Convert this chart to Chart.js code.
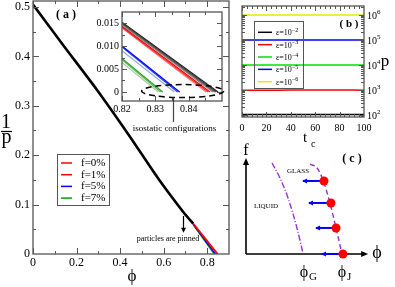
<!DOCTYPE html>
<html>
<head>
<meta charset="utf-8">
<script src="https://cdn.jsdelivr.net/npm/chart.js@4.4.1/dist/chart.umd.min.js"></script>
<style>
  body { margin: 0; background: #fff; }
  #page { position: relative; width: 395px; height: 287px; overflow: hidden; }
  #page canvas { position: absolute; }
</style>
</head>
<body>
<div id="page">
  <canvas id="chartA" width="235" height="287" style="left:0;top:0"></canvas>
  <canvas id="chartInset" width="145" height="140" style="left:85px;top:0"></canvas>
  <canvas id="chartB" width="163" height="150" style="left:232px;top:0"></canvas>
  <canvas id="chartC" width="163" height="147" style="left:232px;top:140px"></canvas>
</div>
<script>
// ---- panel (a): 1/p against phi ----
const phiMain = [0, 0.138, 0.294, 0.446, 0.57, 0.69, 0.736];
const invPMain = [0.505, 0.423, 0.332, 0.237, 0.156, 0.085, 0.061];
const pinLabels = ['f=0%', 'f=1%', 'f=5%', 'f=7%'];
const pinColors = ['#ff0000', '#ff0000', '#0000ff', '#00a000'];
const pinPhiStart = [0.736, 0.736, 0.736, 0.736];
const pinInvPStart = [0.062, 0.061, 0.060, 0.059];
const pinPhiEnd = [0.8485, 0.8462, 0.8372, 0.8320];
const xTicksA = [0, 0.2, 0.4, 0.6, 0.8];
const xMinorA = [0.1, 0.3, 0.5, 0.7];
const yTicksA = [0, 0.1, 0.2, 0.3, 0.4, 0.5];
const yMinorA = [0.05, 0.15, 0.25, 0.35, 0.45];

// ---- inset: close to jamming ----
const insetPhiStart = 0.82;
const insetInvPStart = [0.0152, 0.0150, 0.0148, 0.0146, 0.0143, 0.0141, 0.0139, 0.0100, 0.0098, 0.0090, 0.0073, 0.0070, 0.0064];
const insetPhiEnd = [0.8488, 0.8483, 0.8478, 0.8473, 0.8464, 0.8458, 0.8452, 0.8373, 0.8367, 0.8357, 0.8322, 0.8316, 0.8309];
const insetColors = ['#222', '#444', '#666', '#888', '#ff0000', '#ff3333', '#ff8080',
                     '#0000ff', '#2244ee', '#90a8ea', '#30a030', '#60b860', '#a0d0a0'];
const xTicksIn = [0.82, 0.83, 0.84];
const xMinorIn = [0.825, 0.835, 0.845];
const yTicksIn = [0, 0.005, 0.01, 0.015];
const yMinorIn = [0.0025, 0.0075, 0.0125];

// ---- panel (b): p against t_c ----
const tc = [0, 10, 20, 30, 40, 50, 60, 70, 80, 90, 100];
const epsExp = ['\u22122', '\u22123', '\u22124', '\u22125', '\u22126'];
const epsColors = ['#000000', '#ff0000', '#00e000', '#0000ff', '#e8e800'];
const pEps2 = [105, 105, 105, 105, 105, 105, 105, 105, 105, 105, 105];
const pEps3 = [980, 980, 980, 980, 990, 1000, 1000, 1000, 1000, 990, 980];
const pEps4 = [10000, 10000, 10000, 10000, 10000, 10000, 10000, 10000, 10000, 10000, 10000];
const pEps5 = [100000, 100000, 100000, 100000, 100000, 100000, 100000, 100000, 100000, 100000, 100000];
const pEps6 = [1000000, 1000000, 1000000, 1000000, 1000000, 1000000, 1000000, 1000000, 1000000, 1000000, 1000000];
const xTicksB = [0, 20, 40, 60, 80, 100];
const xMinorB = [4, 8, 12, 16, 24, 28, 32, 36, 44, 48, 52, 56, 64, 68, 72, 76, 84, 88, 92, 96];
const yTicksB = [100, 1000, 10000, 100000, 1000000];
const yMinorB = [];
for (let e = 1; e <= 6; e++) for (let k = 2; k <= 9; k++) yMinorB.push(k * Math.pow(10, e));

// ---- panel (c): schematic f against phi ----
const jamCurveX = [0.516, 0.573, 0.621, 0.677, 0.726, 0.774];
const jamCurveY = [0.957, 0.915, 0.787, 0.543, 0.277, 0];
const glassCurveX = [0.21, 0.274, 0.339, 0.411, 0.46];
const glassCurveY = [0.968, 0.809, 0.596, 0.277, 0.005];
const jamX = [0.629, 0.685, 0.726, 0.782];
const jamY = [0.777, 0.543, 0.277, 0];
const arrowTailX = [0.46, 0.508, 0.565, 0.613];

const SERIF = "'Liberation Serif', 'Times New Roman', serif";
const FRAME = '#555';
const PURPLE = '#9932cc';
const PHI = '\u03d5';
Chart.defaults.font.family = SERIF;
Chart.defaults.color = '#000';

function fixBox(size, horizontal) {
  return s => {
    if (horizontal) s.height = size; else s.width = size;
    s.paddingTop = s.paddingBottom = s.paddingLeft = s.paddingRight = 0;
  };
}
function useTicks(values) {
  return s => { s.ticks = values.map(v => ({ value: v })); };
}
function pts(xs, ys) {
  return xs.map((x, i) => ({ x: x, y: ys[i] }));
}
function text(ctx, s, x, y, size, opts) {
  opts = opts || {};
  ctx.font = (opts.bold ? 'bold ' : '') + size + 'px ' + SERIF;
  ctx.fillStyle = opts.color || '#000';
  ctx.textAlign = opts.align || 'center';
  ctx.textBaseline = opts.base || 'middle';
  ctx.fillText(s, x, y);
  return ctx.measureText(s).width;
}
function arrowHead(ctx, x, y, dx, dy, len, half) {
  const px = -dy, py = dx;
  ctx.beginPath();
  ctx.moveTo(x, y);
  ctx.lineTo(x - dx * len + px * half, y - dy * len + py * half);
  ctx.lineTo(x - dx * len - px * half, y - dy * len - py * half);
  ctx.closePath();
  ctx.fill();
}

// inward ticks on all four sides plus the frame
const frameTicks = {
  id: 'frameTicks',
  afterDatasetsDraw(chart, args, o) {
    const { ctx, chartArea: a } = chart;
    const sx = chart.scales.x, sy = chart.scales.y;
    ctx.save();
    ctx.strokeStyle = FRAME;
    ctx.lineWidth = 1;
    ctx.beginPath();
    const xs = (vals, len) => vals.forEach(v => {
      const p = Math.round(sx.getPixelForValue(v)) + 0.5;
      if (p < a.left || p > a.right) return;
      ctx.moveTo(p, a.bottom); ctx.lineTo(p, a.bottom - len);
      ctx.moveTo(p, a.top); ctx.lineTo(p, a.top + len);
    });
    const ys = (vals, len) => vals.forEach(v => {
      const p = Math.round(sy.getPixelForValue(v)) + 0.5;
      if (p < a.top || p > a.bottom) return;
      ctx.moveTo(a.left, p); ctx.lineTo(a.left + len, p);
      ctx.moveTo(a.right, p); ctx.lineTo(a.right - len, p);
    });
    xs(o.xMajor, o.major); xs(o.xMinor, o.minor);
    ys(o.yMajor, o.major); ys(o.yMinor, o.minor);
    ctx.stroke();
    ctx.lineWidth = 1.3;
    ctx.strokeRect(a.left, a.top, a.right - a.left, a.bottom - a.top);
    ctx.restore();
  }
};

const whiteArea = {
  id: 'whiteArea',
  beforeDraw(chart) {
    const { ctx, chartArea: a } = chart;
    ctx.save();
    ctx.fillStyle = '#fff';
    ctx.fillRect(a.left, a.top, a.right - a.left, a.bottom - a.top);
    ctx.restore();
  }
};

function lineOpts(color, width) {
  return { borderColor: color, borderWidth: width, pointRadius: 0, fill: false };
}

function axisOpts(min, max, ticks, box, horizontal, fontSize, pad) {
  return {
    type: 'linear', min: min, max: max,
    grid: { display: false, drawTicks: false },
    border: { display: false },
    ticks: { padding: pad, font: { size: fontSize }, color: '#000' },
    afterBuildTicks: useTicks(ticks),
    afterFit: fixBox(box, horizontal)
  };
}

// ---------- panel (a) ----------
const notesA = {
  id: 'notesA',
  afterDraw(chart) {
    const { ctx } = chart;
    const sx = chart.scales.x, sy = chart.scales.y;
    ctx.save();
    text(ctx, '( a )', sx.getPixelForValue(0.152), sy.getPixelForValue(0.484), 12, { bold: true });
    // axis titles
    text(ctx, '1', 6, 128, 20, { base: 'alphabetic' });
    ctx.strokeStyle = '#000'; ctx.lineWidth = 1.2;
    ctx.beginPath(); ctx.moveTo(1, 131.5); ctx.lineTo(12, 131.5); ctx.stroke();
    text(ctx, 'p', 6.5, 143, 20, { base: 'alphabetic' });
    text(ctx, PHI, 132, 281, 17, { base: 'alphabetic' });
    // pinning arrow
    const ax = Math.round(sx.getPixelForValue(0.69)) + 0.5;
    const y0 = sy.getPixelForValue(0.077), y1 = sy.getPixelForValue(0.043);
    ctx.fillStyle = '#000';
    ctx.beginPath(); ctx.moveTo(ax, y0); ctx.lineTo(ax, y1 - 4); ctx.stroke();
    arrowHead(ctx, ax, y1, 0, 1, 5, 2.5);
    text(ctx, 'particles are pinned', sx.getPixelForValue(0.62), sy.getPixelForValue(0.030), 8);
    // legend
    ctx.strokeStyle = FRAME; ctx.lineWidth = 1;
    ctx.strokeRect(57.5, 154.5, 52, 51);
    pinLabels.forEach((lab, i) => {
      const y = 163 + i * 11.7;
      ctx.strokeStyle = pinColors[i]; ctx.lineWidth = 1.5;
      ctx.beginPath(); ctx.moveTo(61, y); ctx.lineTo(72, y); ctx.stroke();
      text(ctx, lab, 81, y, 11, { align: 'left' });
    });
    ctx.restore();
  }
};

new Chart(document.getElementById('chartA'), {
  type: 'line',
  data: {
    datasets: [
      ...pinLabels.map((lab, i) => Object.assign({
        label: lab, order: 0,
        data: [{ x: pinPhiStart[i], y: pinInvPStart[i] }, { x: pinPhiEnd[i], y: 0 }]
      }, lineOpts(pinColors[i], 1.4))),
      Object.assign({ label: 'all', order: 1, data: pts(phiMain, invPMain), tension: 0.2 }, lineOpts('#000', 2.6))
    ]
  },
  options: {
    responsive: false, animation: false,
    layout: { padding: { top: 1, right: 6, left: 0, bottom: 0 } },
    plugins: {
      legend: { display: false }, tooltip: { enabled: false },
      frameTicks: { xMajor: xTicksA, xMinor: xMinorA, yMajor: yTicksA, yMinor: yMinorA, major: 6, minor: 3 }
    },
    scales: {
      x: axisOpts(0, 0.9, xTicksA, 33, true, 12, 2),
      y: axisOpts(0, 0.512, yTicksA, 33, false, 12, 3)
    }
  },
  plugins: [frameTicks, notesA]
});

// ---------- inset ----------
const notesInset = {
  id: 'notesInset',
  afterDraw(chart) {
    const { ctx } = chart;
    const sx = chart.scales.x, sy = chart.scales.y;
    ctx.save();
    const cx = sx.getPixelForValue(0.8382), cy = sy.getPixelForValue(0.0002);
    ctx.strokeStyle = '#000'; ctx.lineWidth = 1.5;
    ctx.setLineDash([6, 4]);
    ctx.beginPath(); ctx.ellipse(cx, cy, 41, 6.5, 0, 0, Math.PI * 2); ctx.stroke();
    ctx.setLineDash([]);
    const lx = Math.round(sx.getPixelForValue(0.8352)) + 0.5;
    ctx.strokeStyle = '#444'; ctx.lineWidth = 1.2;
    ctx.beginPath(); ctx.moveTo(lx, cy + 6.5); ctx.lineTo(lx, 122); ctx.stroke();
    text(ctx, 'isostatic configurations', lx + 1, 129, 9);
    ctx.restore();
  }
};

new Chart(document.getElementById('chartInset'), {
  type: 'line',
  data: {
    datasets: insetInvPStart.map((v, i) => Object.assign({
      data: [{ x: insetPhiStart, y: v }, { x: insetPhiEnd[i], y: 0 }]
    }, lineOpts(insetColors[i], 1.2)))
  },
  options: {
    responsive: false, animation: false,
    layout: { padding: { top: 12, right: 8, left: 0, bottom: 15 } },
    plugins: {
      legend: { display: false }, tooltip: { enabled: false },
      frameTicks: { xMajor: xTicksIn, xMinor: xMinorIn, yMajor: yTicksIn, yMinor: yMinorIn, major: 5, minor: 3 }
    },
    scales: {
      x: axisOpts(0.82, 0.85, xTicksIn, 24, true, 10, 2),
      y: axisOpts(-0.00196, 0.0174, yTicksIn, 37, false, 10, 3)
    }
  },
  plugins: [whiteArea, frameTicks, notesInset]
});

// ---------- panel (b) ----------
const notesB = {
  id: 'notesB',
  afterDraw(chart) {
    const { ctx, chartArea: a } = chart;
    const sy = chart.scales.y;
    ctx.save();
    yTicksB.forEach(v => {
      const y = sy.getPixelForValue(v);
      const w = text(ctx, '10', a.right + 3, y + 1, 10, { align: 'left' });
      text(ctx, String(Math.round(Math.log10(v))), a.right + 3 + w, y - 3, 7, { align: 'left' });
    });
    text(ctx, 'p', 153, 62, 17);
    text(ctx, '( b )', 117, 24, 11, { bold: true });
    text(ctx, 't', 73, 142, 15, { base: 'alphabetic' });
    text(ctx, 'c', 79, 147, 10, { base: 'alphabetic', align: 'left' });
    // legend
    ctx.strokeStyle = FRAME; ctx.lineWidth = 1;
    ctx.strokeRect(22.5, 21.5, 49, 67);
    epsExp.forEach((ex, i) => {
      const y = 32.3 + i * 12.35;
      ctx.strokeStyle = epsColors[i]; ctx.lineWidth = 1.5;
      ctx.beginPath(); ctx.moveTo(26, y); ctx.lineTo(40, y); ctx.stroke();
      const w = text(ctx, '\u03b5=10', 44, y + 1, 8, { align: 'left' });
      text(ctx, ex, 44 + w, y - 2, 6, { align: 'left' });
    });
    ctx.restore();
  }
};

const pSeries = [pEps2, pEps3, pEps4, pEps5, pEps6];
new Chart(document.getElementById('chartB'), {
  type: 'line',
  data: {
    datasets: pSeries.map((s, i) => Object.assign({ data: pts(tc, s) }, lineOpts(epsColors[i], 1.5)))
  },
  options: {
    responsive: false, animation: false,
    layout: { padding: { top: 6, right: 31, left: 10, bottom: 0 } },
    plugins: {
      legend: { display: false }, tooltip: { enabled: false },
      frameTicks: { xMajor: xTicksB, xMinor: xMinorB, yMajor: yTicksB, yMinor: yMinorB, major: 5, minor: 3 }
    },
    scales: {
      x: axisOpts(0, 100, xTicksB, 33, true, 10, 5),
      y: { type: 'logarithmic', display: false, min: 83, max: 2290000, afterBuildTicks: useTicks(yTicksB) }
    }
  },
  plugins: [frameTicks, notesB]
});

// ---------- panel (c) ----------
const notesC = {
  id: 'notesC',
  beforeDatasetsDraw(chart) {
    const { ctx } = chart;
    const sx = chart.scales.x, sy = chart.scales.y;
    const x0 = sx.getPixelForValue(0), y0 = sy.getPixelForValue(0);
    const yTop = sy.getPixelForValue(1.02), xEnd = sx.getPixelForValue(0.985);
    ctx.save();
    ctx.strokeStyle = '#000'; ctx.fillStyle = '#000'; ctx.lineWidth = 1.6;
    ctx.beginPath();
    ctx.moveTo(x0, y0); ctx.lineTo(x0, yTop + 5);
    ctx.moveTo(x0, y0); ctx.lineTo(xEnd - 5, y0);
    ctx.stroke();
    arrowHead(ctx, x0, yTop, 0, -1, 7, 3);
    arrowHead(ctx, xEnd, y0, 1, 0, 7, 3);
    ctx.restore();
  },
  afterDraw(chart) {
    const { ctx } = chart;
    const sx = chart.scales.x, sy = chart.scales.y;
    ctx.save();
    // arrowheads on the blue arrows
    ctx.fillStyle = '#0000ff';
    arrowTailX.forEach((x, i) => arrowHead(ctx, sx.getPixelForValue(x) - 1, sy.getPixelForValue(jamY[i]), -1, 0, 5, 2.5));
    text(ctx, 'f', 14, 11, 16);
    text(ctx, PHI, sx.getPixelForValue(1.056), sy.getPixelForValue(0) - 1, 18);
    const gx = sx.getPixelForValue(glassCurveX[glassCurveX.length - 1]);
    const jx = sx.getPixelForValue(jamCurveX[jamCurveX.length - 1]);
    const by = sy.getPixelForValue(0) + 23;
    text(ctx, PHI, gx + 1, by, 16, { base: 'alphabetic' });
    text(ctx, 'G', gx + 6, by + 3, 11, { base: 'alphabetic', align: 'left' });
    text(ctx, PHI, jx, by, 16, { base: 'alphabetic' });
    text(ctx, 'J', jx + 5, by + 3, 11, { base: 'alphabetic', align: 'left' });
    text(ctx, '( c )', 120, 19, 12, { bold: true });
    text(ctx, 'GLASS', 66, 31, 7);
    text(ctx, 'LIQUID', 34, 66, 7);
    ctx.restore();
  }
};

new Chart(document.getElementById('chartC'), {
  type: 'line',
  data: {
    datasets: [
      Object.assign({ type: 'scatter', order: 0, clip: false, data: pts(jamX, jamY),
        pointRadius: 4.5, pointBackgroundColor: '#ff0000', pointBorderWidth: 0, showLine: false }),
      ...arrowTailX.map((x, i) => Object.assign({ order: 1, clip: false,
        data: [{ x: x, y: jamY[i] }, { x: jamX[i], y: jamY[i] }] }, lineOpts('#0000ff', 2))),
      Object.assign({ order: 2, clip: false, data: pts(jamCurveX, jamCurveY), borderDash: [5, 3],
        cubicInterpolationMode: 'monotone' }, lineOpts(PURPLE, 1.4)),
      Object.assign({ order: 2, clip: false, data: pts(glassCurveX, glassCurveY), borderDash: [6, 2, 1, 2],
        cubicInterpolationMode: 'monotone' }, lineOpts(PURPLE, 1.4))
    ]
  },
  options: {
    responsive: false, animation: false,
    layout: { padding: { top: 20, right: 25, left: 14, bottom: 33 } },
    plugins: { legend: { display: false }, tooltip: { enabled: false } },
    scales: {
      x: { type: 'linear', display: false, min: 0, max: 1 },
      y: { type: 'linear', display: false, min: 0, max: 1 }
    }
  },
  plugins: [notesC]
});
</script>
</body>
</html>
